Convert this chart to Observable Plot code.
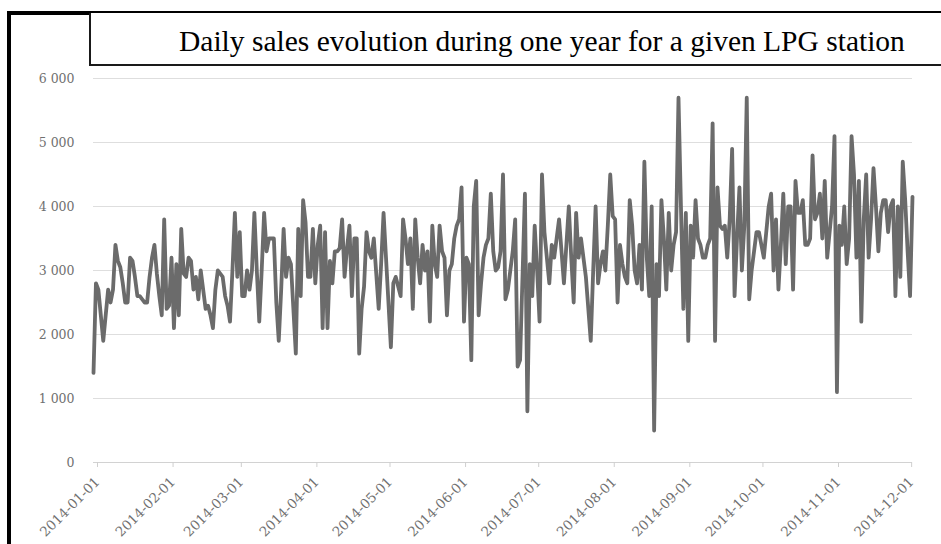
<!DOCTYPE html>
<html>
<head>
<meta charset="utf-8">
<script src="https://cdn.jsdelivr.net/npm/d3@7"></script>
<script src="https://cdn.jsdelivr.net/npm/@observablehq/plot@0.6"></script>
<style>
  html, body { margin: 0; padding: 0; background: #fff; }
  #page { position: relative; width: 941px; height: 544px; overflow: hidden; background: #fff; }
  #chart { position: absolute; left: 0; top: 0; }
  .bar { position: absolute; background: #000; }
  #titlebox { position: absolute; left: 89px; top: 13px; width: 870px; height: 51px;
              border-left: 2px solid #1a1a1a; border-bottom: 2px solid #1a1a1a; background: #fff; }
  #title { position: absolute; left: 179px; top: 27px; margin: 0; white-space: nowrap;
           font-family: "Liberation Serif", "Times New Roman", serif; font-weight: normal;
           font-size: 29.5px; line-height: 1; color: #000; }
</style>
</head>
<body>
<div id="page">
  <div id="chart"></div>
  <div class="bar" style="left:7px; top:11px; width:934px; height:4px;"></div>
  <div class="bar" style="left:7px; top:11px; width:4px; height:533px;"></div>
  <div id="titlebox"></div>
  <h1 id="title"></h1>
</div>
<script>
const titleText = "Daily sales evolution during one year for a given LPG station";
const startDate = "2014-01-01";
// daily sales values, one per day from 2014-01-01
const sales = [
  1400, 2800, 2700, 2300, 1900, 2300, 2700, 2500, 2700, 3400,
  3150, 3050, 2800, 2500, 2500, 3200, 3150, 2900, 2600, 2600,
  2550, 2500, 2500, 2900, 3200, 3400, 2950, 2600, 2300, 3800,
  2400, 2450, 3200, 2100, 3100, 2300, 3650, 2950, 2900, 3200,
  3150, 2700, 2900, 2550, 3000, 2700, 2400, 2450, 2300, 2100,
  2700, 3000, 2950, 2900, 2600, 2450, 2200, 3000, 3900, 2900,
  3600, 2600, 2600, 3000, 2700, 3000, 3900, 3000, 2200, 3000,
  3900, 3300, 3500, 3500, 3500, 2500, 1900, 2700, 3650, 2900,
  3200, 3100, 2400, 1700, 3650, 2600, 4100, 3750, 2900, 2900,
  3650, 2800, 3400, 3700, 2100, 3600, 2100, 3150, 2800, 3300,
  3300, 3350, 3800, 2900, 3350, 3700, 2600, 3500, 3500, 1700,
  2400, 2750, 3600, 3300, 3200, 3500, 2950, 2400, 3100, 3900,
  3200, 2500, 1800, 2800, 2900, 2750, 2600, 3800, 3500, 3100,
  3500, 2400, 3800, 3200, 2800, 3400, 3000, 3300, 2200, 3700,
  3100, 2900, 3700, 3300, 3200, 2300, 3000, 3100, 3500, 3700,
  3800, 4300, 2200, 3200, 3100, 1600, 4000, 4400, 2300, 2800,
  3200, 3400, 3500, 4200, 3300, 3000, 3050, 3300, 4500, 2550,
  2700, 3000, 3300, 3800, 1500, 1600, 2900, 4200, 800, 3100,
  2600, 3700, 3000, 2200, 4500, 3600, 3200, 2800, 3400, 3200,
  3500, 3800, 3300, 2800, 3400, 4000, 3200, 2500, 3900, 3200,
  3500, 3200, 2900, 2400, 1900, 3000, 4000, 2800, 3100, 3300,
  3000, 3700, 4500, 3850, 3800, 2500, 3400, 3100, 2900, 2800,
  4100, 3700, 3000, 2800, 3400, 2700, 4700, 3200, 2600, 4000,
  500, 3100, 2600, 4100, 3500, 2700, 3900, 3000, 3400, 3600,
  5700, 4000, 2400, 3900, 1900, 3700, 3200, 4100, 3500, 3400,
  3200, 3200, 3400, 3500, 5300, 1900, 4300, 3700, 3650, 3700,
  3200, 3800, 4900, 2600, 3500, 4300, 3000, 3700, 5700, 2550,
  3000, 3300, 3600, 3600, 3400, 3200, 3600, 4000, 4200, 3000,
  3800, 2700, 3400, 4200, 3100, 4000, 4000, 2700, 4400, 3900,
  3900, 4100, 3400, 3400, 3500, 4800, 3800, 3900, 4200, 3500,
  4400, 3200, 3600, 4000, 5100, 1100, 3700, 3400, 4000, 3100,
  3500, 5100, 4500, 3200, 4400, 2200, 3800, 4500, 3200, 3800,
  4600, 4000, 3300, 3900, 4100, 4100, 3600, 4000, 4100, 2600,
  4000, 2900, 4700, 4100, 3300, 2600, 4150
];
const monthTicks = ["2014-01-01","2014-02-01","2014-03-01","2014-04-01","2014-05-01","2014-06-01",
                    "2014-07-01","2014-08-01","2014-09-01","2014-10-01","2014-11-01","2014-12-01"];
const yTicks = [0, 1000, 2000, 3000, 4000, 5000, 6000];

document.getElementById("title").textContent = titleText;

const t0 = new Date(startDate);
const data = sales.map((v, i) => ({date: d3.utcDay.offset(t0, i), value: v}));
const tickDates = monthTicks.map(s => new Date(s));
const fmtY = d3.formatLocale({decimal: ",", thousands: "\u00a0", grouping: [3], currency: ["", ""]}).format(",");

const chart = Plot.plot({
  width: 941,
  height: 544,
  marginTop: 78,
  marginBottom: 82,
  marginLeft: 93,
  marginRight: 29,
  style: {fontFamily: "'DejaVu Serif', serif", fontSize: "12.5px", color: "#707070", background: "transparent", overflow: "visible"},
  x: {type: "utc", domain: [t0, data[data.length - 1].date]},
  y: {domain: [0, 6000]},
  marks: [
    Plot.gridY(yTicks, {stroke: "#dedede", strokeOpacity: 1, strokeWidth: 1}),
    Plot.axisY(yTicks, {tickSize: 0, tickPadding: 19, tickFormat: fmtY, label: null, fill: "#707070"}),
    Plot.ruleY([0], {stroke: "#d2d2d2", strokeWidth: 1}),
    Plot.axisX(tickDates, {tickSize: 5, tickPadding: 12, dx: 4, tickRotate: -45, fontSize: 13.5,
                           tickFormat: d3.utcFormat("%Y-%m-%d"), label: null, stroke: "#cfcfcf", fill: "#707070"}),
    Plot.lineY(data, {x: "date", y: "value", stroke: "#6b6b6b", strokeWidth: 3.8})
  ]
});
document.getElementById("chart").appendChild(chart);
</script>
</body>
</html>
